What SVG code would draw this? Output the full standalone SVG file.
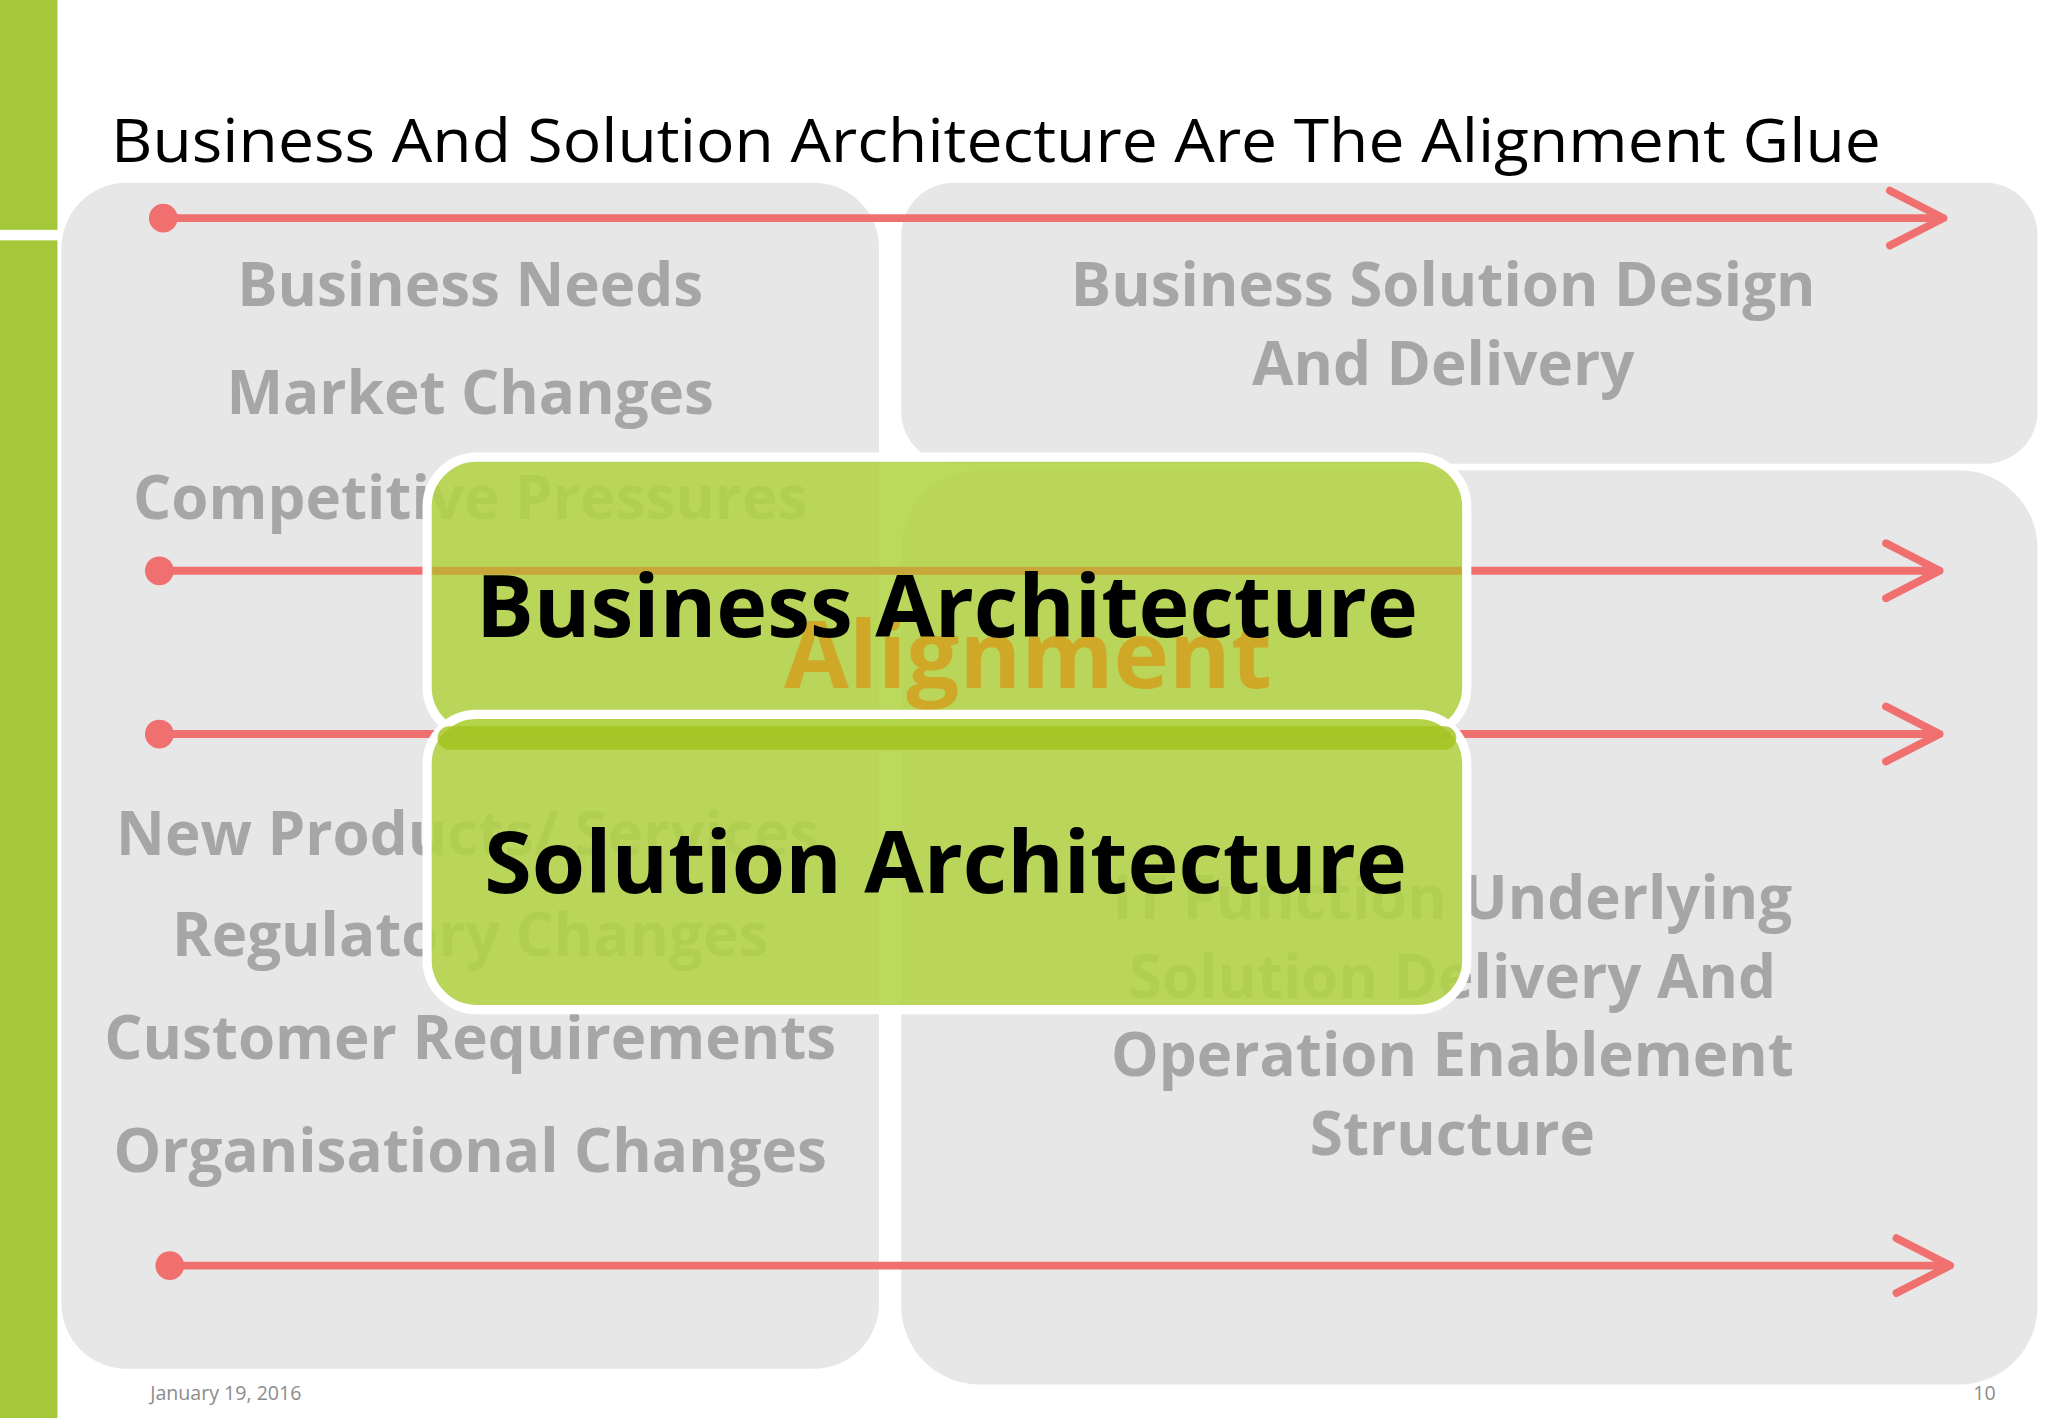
<svg xmlns="http://www.w3.org/2000/svg" width="2048" height="1418" viewBox="0 0 2048 1418">
<defs>
<style>
.g{font-family:"Open Sans","DejaVu Sans",sans-serif;font-weight:bold;fill:#a6a6a6;font-size:46px;text-anchor:middle}
.a{stroke:#f07070;stroke-width:6;fill:none;stroke-linecap:round;stroke-linejoin:round}
.p{fill:#e8e7e8}
.box{fill:#b2d447;fill-opacity:0.88;stroke:#ffffff;stroke-width:7}
.bt{font-family:"Open Sans","DejaVu Sans",sans-serif;font-weight:bold;font-size:66px;fill:#000;text-anchor:middle}
</style>
</defs>
<rect width="2048" height="1418" fill="#fff"/>
<g transform="scale(1.3061)">
<rect x="0" y="0" width="44" height="1086" fill="#a5c73a"/>
<rect x="0" y="176" width="46" height="8" fill="#fff"/>
<text x="85" y="124" font-family="Open Sans, sans-serif" font-size="46" fill="#000" textLength="1355" lengthAdjust="spacingAndGlyphs">Business And Solution Architecture Are The Alignment Glue</text>
<g id="panels">
<rect class="p" x="47" y="140" width="626" height="908" rx="50"/>
<rect class="p" x="690" y="140" width="870" height="215" rx="40"/>
<rect class="p" x="690" y="360" width="870" height="700" rx="60"/>
</g>
<g id="left-text">
<text class="g" x="360" y="234">Business Needs</text>
<text class="g" x="360" y="317">Market Changes</text>
<text class="g" x="360" y="397">Competitive Pressures</text>
<text class="g" x="358" y="655">New Products/ Services</text>
<text class="g" x="360" y="732">Regulatory Changes</text>
<text class="g" x="360" y="811">Customer Requirements</text>
<text class="g" x="360" y="897">Organisational Changes</text>
</g>
<g id="right-text">
<text class="g" x="1105" y="234">Business Solution Design</text>
<text class="g" x="1105" y="295">And Delivery</text>
<text class="g" x="1112" y="704">IT Function Underlying</text>
<text class="g" x="1112" y="764">Solution Delivery And</text>
<text class="g" x="1112" y="824">Operation Enablement</text>
<text class="g" x="1112" y="884">Structure</text>
</g>
<g id="connectors">
<circle cx="125" cy="167" r="11" fill="#f07070"/>
<path class="a" d="M125 167H1488M1447 146L1488 167L1447 188"/>
<circle cx="122" cy="437" r="11" fill="#f07070"/>
<path class="a" d="M122 437H1485M1444 416L1485 437L1444 458"/>
<circle cx="122" cy="562" r="11" fill="#f07070"/>
<path class="a" d="M122 562H1485M1444 541L1485 562L1444 583"/>
<circle cx="130" cy="969" r="11" fill="#f07070"/>
<path class="a" d="M130 969H1493M1452 948L1493 969L1452 990"/>
</g>
<g id="business-architecture">
<rect class="box" x="327" y="350" width="796" height="214" rx="38"/>
<rect x="331" y="434" width="788" height="6" fill="#c8a73a"/>
<text x="787" y="527" font-family="Open Sans, sans-serif" font-weight="bold" font-size="72" fill="#d4a020" fill-opacity="0.85" text-anchor="middle">Alignment</text>
<text class="bt" x="725" y="488">Business Architecture</text>
</g>
<g id="solution-architecture">
<rect class="box" x="327" y="547" width="796" height="226" rx="38"/>
<rect x="335" y="556" width="780" height="18" rx="9" fill="#a2c21c" fill-opacity="0.8"/>
<text class="bt" x="724" y="684">Solution Architecture</text>
</g>
<text x="115" y="1072" font-family="Open Sans, sans-serif" font-size="15" fill="#8c8c8c">January 19, 2016</text>
<text x="1528" y="1072" font-family="Open Sans, sans-serif" font-size="15" fill="#8c8c8c" text-anchor="end">10</text>
</g>
</svg>
